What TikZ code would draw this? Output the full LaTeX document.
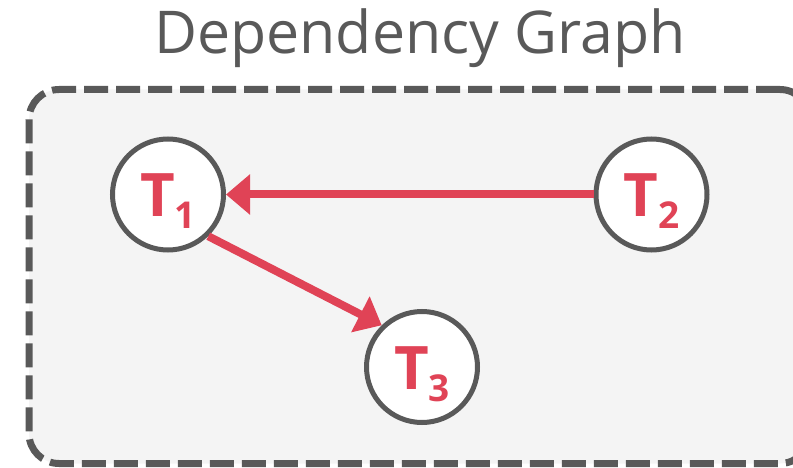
\documentclass[tikz,border=0pt]{standalone}
\usepackage{fontspec}
\setmainfont{Open Sans}
\usetikzlibrary{arrows.meta}
\definecolor{dgray}{HTML}{595959}
\definecolor{dred}{HTML}{E04356}
\definecolor{panel}{HTML}{F4F4F4}
\tikzset{
  frame/.style={draw=dgray, fill=panel, line width=7pt, dash pattern=on 24pt off 8pt,
    rounded corners=30pt, inner sep=0pt},
  task/.style={circle, draw=dgray, fill=white, line width=5pt, minimum size=111pt,
    inner sep=0pt, text=dred, font=\fontsize{60}{60}\selectfont\bfseries,
    text height=45pt, text depth=0pt},
  dep/.style={draw=dred, line width=8pt, -{Triangle[length=24pt,width=39pt]}},
  title/.style={text=dgray, font=\fontsize{59}{59}\selectfont, inner sep=0pt, anchor=base}
}
\newcommand{\sbs}[1]{\raisebox{-12pt}{\fontsize{37}{37}\selectfont #1}}
\begin{document}
\begin{tikzpicture}[x=1pt,y=-1pt]
\useasboundingbox (0,0) rectangle (793,468);
\node[title] (ttl) at (420,54) {Dependency Graph};
\node[frame, minimum width=781pt, minimum height=374pt] (box) at (419.5,276.5) {};
\node[task] (t1) at (168,194.5) {T\sbs{1}};
\node[task] (t2) at (651.5,194.5) {T\sbs{2}};
\node[task] (t3) at (422,367) {T\sbs{3}};
\draw[dep] (t2.west) -- (t1.east);
\draw[dep] (t1.-46) -- (t3.134);
\end{tikzpicture}
\end{document}
